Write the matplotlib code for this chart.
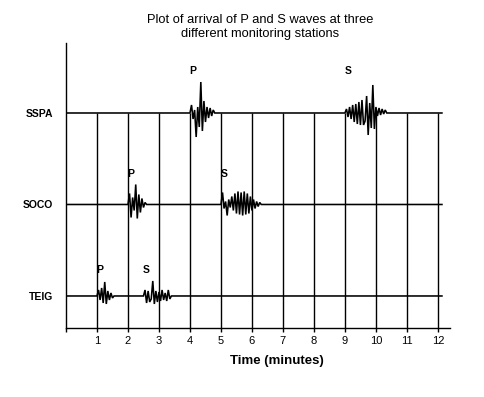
"""
Arrival of P and S waves at three monitoring stations (seismogram sketch)
"""

import numpy as np
import matplotlib
matplotlib.use('Agg')
import matplotlib.pyplot as plt

plt.rcParams['font.family'] = ['Liberation Sans', 'DejaVu Sans']

# Stations, bottom to top
STATIONS = ['TEIG', 'SOCO', 'SSPA']
STATION_POS = [1, 2, 3]

# Arrival times (minutes)
P_ARRIVAL = [1.0, 2.0, 4.0]
S_ARRIVAL = [2.5, 5.0, 9.0]

# Wiggle amplitudes (pixel-ish units, one sample every 0.05 min)
SAMPLE_DT = 0.05
AMP_UNIT = 1 / 91.5  # station spacing is ~91.5 units

P_WIGGLES = [
    [0, 6, -4, 8, -7, 14, -8, 5, -4, 3, -2, 0],
    [0, 11, -13, 7, -6, 20, -14, 10, -8, 6, -3, 2, 0],
    [0, 8, -6, 3, -24, 6, -14, 31, -18, 12, -9, 6, -5, 5, -3, 3, 0],
]
S_WIGGLES = [
    [0, 6, -7, 5, -6, -3, 15, -8, 5, -6, 4, -5, 6, -4, 3, -5, 6, -3, 0],
    [0, 12, -4, 3, -11, 5, -3, 8, -6, 11, -9, 13, -10, 12, -11, 13, -10, 11,
     -9, 8, -6, 5, -4, 3, -2, 2, 0],
    [0, 4, -4, 6, -6, 8, -9, 9, -11, 11, -12, 13, -12, -8, 17, -22, 10, -15,
     28, -16, 6, -3, 5, -2, 4, -1, 3, 0],
]

X_TICKS = list(range(0, 13))
X_TICK_LABELS = [''] + [str(i) for i in range(1, 13)]
GRID_MINUTES = list(range(1, 13))

TRACE_END = 12.13
X_MAX = 12.39
Y_MIN, Y_MAX = 0.65, 3.765


def build_trace(pos, arrivals):
    """Flat line with wiggle packets inserted at each arrival time."""
    xs, ys = [0.0], [pos]
    for t0, amps in arrivals:
        for k, a in enumerate(amps):
            xs.append(t0 + k * SAMPLE_DT)
            ys.append(pos + a * AMP_UNIT)
    xs.append(TRACE_END)
    ys.append(pos)
    return np.array(xs), np.array(ys)


fig = plt.figure(figsize=(4.84, 3.97), dpi=100)
ax = fig.add_axes([66 / 484, 1 - 328 / 397, 384 / 484, 285 / 397])

# Vertical minute lines from the top station down to the time axis
ax.vlines(GRID_MINUTES, Y_MIN, STATION_POS[-1], color='black', lw=1.0)

for i, pos in enumerate(STATION_POS):
    arrivals = [(P_ARRIVAL[i], P_WIGGLES[i]), (S_ARRIVAL[i], S_WIGGLES[i])]
    xs, ys = build_trace(pos, arrivals)
    ax.plot(xs, ys, color='black', lw=1.15, solid_joinstyle='miter')

    # P / S markers just above the largest wiggle of this station
    peak = max(max(P_WIGGLES[i]), max(S_WIGGLES[i])) * AMP_UNIT
    for t0, lab in [(P_ARRIVAL[i], 'P'), (S_ARRIVAL[i], 'S')]:
        ax.text(t0 + 0.1, pos + peak + 0.12, lab, ha='center', va='center',
                fontsize=7.5, fontweight='bold')

ax.set_xlim(0, X_MAX)
ax.set_ylim(Y_MIN, Y_MAX)

ax.set_xticks(X_TICKS)
ax.set_xticklabels(X_TICK_LABELS, fontsize=8)
ax.tick_params(axis='x', direction='out', length=3, width=1.0, pad=3)

ax.set_yticks(STATION_POS)
ax.set_yticklabels(STATIONS, fontsize=7.5, fontweight='bold')
ax.tick_params(axis='y', length=0, pad=9.5)

for side in ['top', 'right']:
    ax.spines[side].set_visible(False)
for side in ['left', 'bottom']:
    ax.spines[side].set_linewidth(1.0)

ax.set_xlabel('Time (minutes)', fontsize=9.5, fontweight='bold')
ax.xaxis.set_label_coords((277 - 66) / 384, -0.095)

fig.text(260 / 484, 1 - 27 / 397,
         'Plot of arrival of P and S waves at three\ndifferent monitoring stations',
         ha='center', va='center', fontsize=9.3, linespacing=1.3)

fig.savefig('out.png', dpi=100)
